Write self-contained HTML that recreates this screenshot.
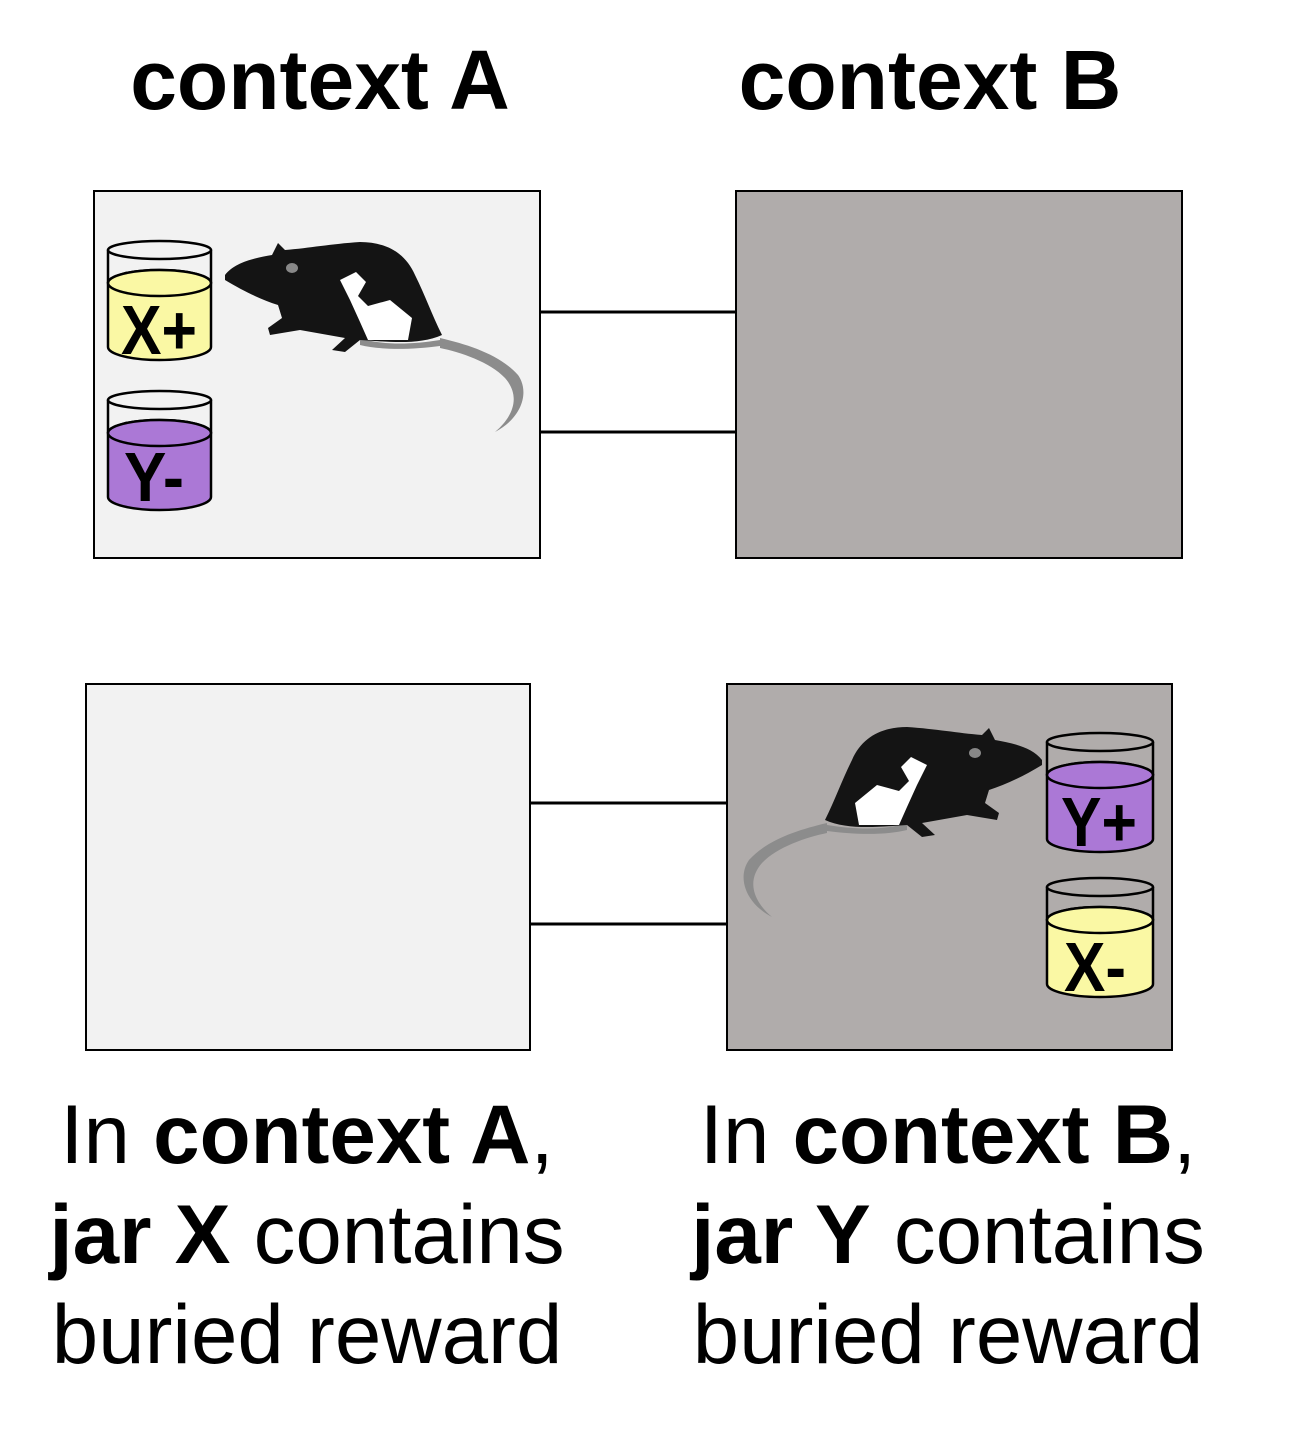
<!DOCTYPE html>
<html><head><meta charset="utf-8"><style>
html,body{margin:0;padding:0;background:#fff;}
body{width:1303px;height:1430px;position:relative;overflow:hidden;font-family:"Liberation Sans",sans-serif;}
.t{position:absolute;text-align:center;font-size:83.5px;line-height:100px;color:#000;}
</style></head><body>
<svg width="1303" height="1430" style="position:absolute;left:0;top:0">
<defs>
<g id="rat">
<path d="M440,338 C470,345 500,355 518,375 C530,392 522,418 495,432 C515,415 520,395 505,378 C490,362 460,352 440,348 Z" fill="#8c8c8c"/>
<path d="M360,338 C380,345 410,345 440,340 L440,346 C410,350 380,350 360,345 Z" fill="#8c8c8c"/>
<path d="M225,275 C235,262 255,258 272,255 L278,243 L285,250 C310,248 330,244 360,242 C385,242 405,252 415,275 C425,295 432,315 442,335 C420,345 390,342 360,340 L345,352 L332,350 L345,338 L300,330 L270,335 L268,328 L282,318 L278,305 C262,300 245,292 225,280 Z" fill="#141414"/>
<path d="M340,280 L356,272 L366,282 L358,296 L368,306 L390,300 L412,318 L408,340 L368,340 L360,322 L350,300 Z" fill="#fff"/>
<ellipse cx="292" cy="268" rx="6" ry="5" fill="#888"/>
</g>
</defs>
<rect x="94" y="191" width="446" height="367" fill="#f2f2f2" stroke="#000" stroke-width="2"/>
<rect x="736" y="191" width="446" height="367" fill="#b0acab" stroke="#000" stroke-width="2"/>
<rect x="86" y="684" width="444" height="366" fill="#f2f2f2" stroke="#000" stroke-width="2"/>
<rect x="727" y="684" width="445" height="366" fill="#b0acab" stroke="#000" stroke-width="2"/>
<g stroke="#000" stroke-width="3">
<line x1="540" y1="312" x2="736" y2="312"/><line x1="540" y1="432" x2="736" y2="432"/>
<line x1="530" y1="803" x2="727" y2="803"/><line x1="530" y1="924" x2="727" y2="924"/>
</g>
<use href="#rat"/>
<use href="#rat" transform="translate(1267,485) scale(-1,1)"/>
<g stroke="#000" stroke-width="2.5" font-family="Liberation Sans, sans-serif" font-weight="bold" font-size="70" text-anchor="middle">
<g transform="translate(108,250)">
<path d="M0,33 L0,97 A51.5,13 0 0 0 103,97 L103,33 A51.5,13 0 0 0 0,33 Z" fill="#faf8a4"/>
<ellipse cx="51.5" cy="33" rx="51.5" ry="13" fill="#faf8a4"/>
<line x1="0" y1="0" x2="0" y2="33"/><line x1="103" y1="0" x2="103" y2="33"/>
<ellipse cx="51.5" cy="0" rx="51.5" ry="9" fill="none"/>
<text x="51" y="104" stroke="none" fill="#000" textLength="76" lengthAdjust="spacingAndGlyphs">X+</text>
</g>
<g transform="translate(108,400)">
<path d="M0,33 L0,97 A51.5,13 0 0 0 103,97 L103,33 A51.5,13 0 0 0 0,33 Z" fill="#ab78d6"/>
<ellipse cx="51.5" cy="33" rx="51.5" ry="13" fill="#ab78d6"/>
<line x1="0" y1="0" x2="0" y2="33"/><line x1="103" y1="0" x2="103" y2="33"/>
<ellipse cx="51.5" cy="0" rx="51.5" ry="9" fill="none"/>
<text x="46" y="101" stroke="none" fill="#000" textLength="60" lengthAdjust="spacingAndGlyphs">Y-</text>
</g>
<g transform="translate(1047,742)">
<path d="M0,33 L0,97 A53,13 0 0 0 106,97 L106,33 A53,13 0 0 0 0,33 Z" fill="#ab78d6"/>
<ellipse cx="53" cy="33" rx="53" ry="13" fill="#ab78d6"/>
<line x1="0" y1="0" x2="0" y2="33"/><line x1="106" y1="0" x2="106" y2="33"/>
<ellipse cx="53" cy="0" rx="53" ry="9" fill="none"/>
<text x="52" y="104" stroke="none" fill="#000" textLength="76" lengthAdjust="spacingAndGlyphs">Y+</text>
</g>
<g transform="translate(1047,887)">
<path d="M0,33 L0,97 A53,13 0 0 0 106,97 L106,33 A53,13 0 0 0 0,33 Z" fill="#faf8a4"/>
<ellipse cx="53" cy="33" rx="53" ry="13" fill="#faf8a4"/>
<line x1="0" y1="0" x2="0" y2="33"/><line x1="106" y1="0" x2="106" y2="33"/>
<ellipse cx="53" cy="0" rx="53" ry="9" fill="none"/>
<text x="48" y="104" stroke="none" fill="#000" textLength="62" lengthAdjust="spacingAndGlyphs">X-</text>
</g>
</g>
</svg>
<div class="t" style="left:20px;width:600px;top:30px;font-weight:bold;font-size:84px;">context A</div>
<div class="t" style="left:630px;width:600px;top:30px;font-weight:bold;font-size:84px;">context B</div>
<div class="t" style="left:7px;width:600px;top:1084px;">In <b>context A</b>,<br><b>jar X</b> contains<br>buried reward</div>
<div class="t" style="left:648px;width:600px;top:1084px;">In <b>context B</b>,<br><b>jar Y</b> contains<br>buried reward</div>
</body></html>
